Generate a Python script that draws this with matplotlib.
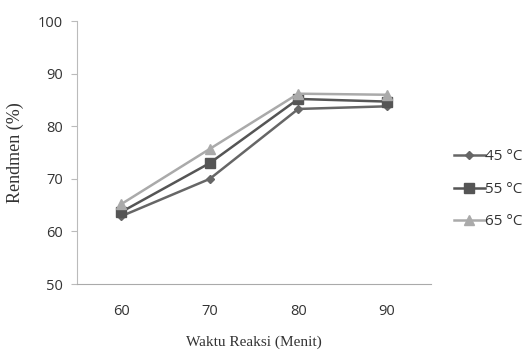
import matplotlib.pyplot as plt

waktu = ['60', '70', '80', '90']
suhu_45 = [62.9, 70.0, 83.3, 83.8]
suhu_55 = [63.7, 73.0, 85.2, 84.7]
suhu_65 = [65.2, 75.7, 86.2, 86.0]
labels = ['45 °C', '55 °C', '65 °C']

fig = plt.figure(figsize=(5.32, 3.52), dpi=100)
ax = fig.add_axes([0.1447, 0.193, 0.6655, 0.747])

x = range(len(waktu))
ax.plot(x, suhu_45, color='#666666', marker='D', markersize=4, lw=1.8, label=labels[0])
ax.plot(x, suhu_55, color='#555555', marker='s', markersize=7, lw=1.8, label=labels[1])
ax.plot(x, suhu_65, color='#aaaaaa', marker='^', markersize=7, lw=1.8, label=labels[2])

ax.set_xlim(-0.5, 3.5)
ax.set_ylim(50, 100)
ax.set_yticks([50, 60, 70, 80, 90, 100])
ax.set_xticks(list(x))
ax.set_xticklabels(waktu)
for s in ['top', 'right']:
    ax.spines[s].set_visible(False)
ax.spines['left'].set_color('#bbbbbb')
ax.spines['bottom'].set_color('#aaaaaa')
ax.tick_params(axis='y', length=4, color='#bbbbbb', labelsize=10.5, labelcolor='#333333', pad=6)
ax.tick_params(axis='x', length=0, labelsize=10.5, labelcolor='#333333', pad=14)
for t in ax.get_xticklabels() + ax.get_yticklabels():
    t.set_fontfamily('Open Sans')

ax.set_ylabel('Rendmen (%)', fontfamily='Liberation Serif', fontsize=13, color='#333333', labelpad=10)
ax.set_xlabel('Waktu Reaksi (Menit)', fontfamily='Liberation Serif', fontsize=11, color='#333333', labelpad=12)

leg = ax.legend(loc='center left', bbox_to_anchor=(1.065, 0.36), frameon=False,
                prop={'family': 'Open Sans', 'size': 11}, handlelength=2.0,
                handletextpad=0.0, labelspacing=1.15, borderpad=0, borderaxespad=0)
for t in leg.get_texts():
    t.set_color('#333333')

fig.savefig('out.png')
